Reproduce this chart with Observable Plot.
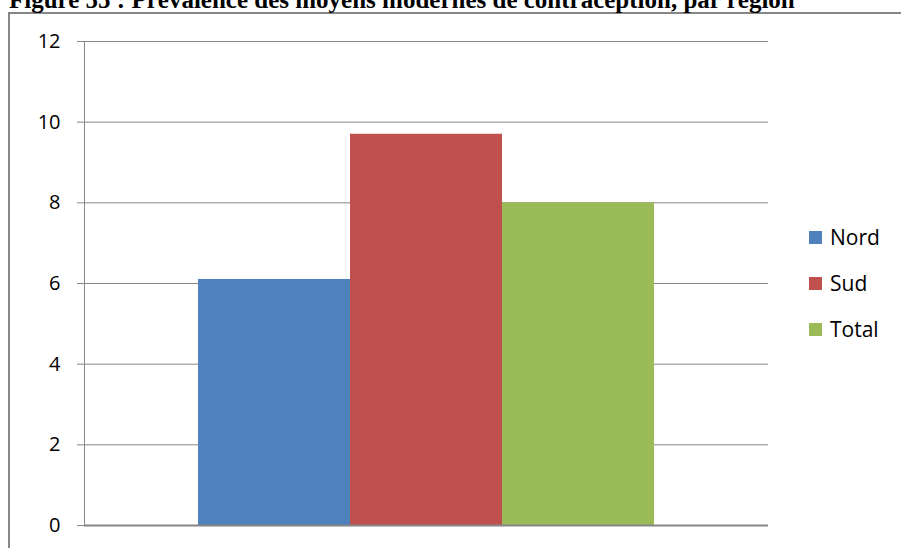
<!DOCTYPE html>
<html>
<head>
<meta charset="utf-8">
<script src="https://cdn.jsdelivr.net/npm/d3@7"></script>
<script src="https://cdn.jsdelivr.net/npm/@observablehq/plot@0.6"></script>
<style>
  html, body { margin: 0; padding: 0; background: #fff; overflow: hidden; }
  #wrap { position: relative; width: 901px; height: 548px; overflow: hidden; }
  #title { position: absolute; left: 9px; top: -12.9px; font-family: "Liberation Serif", "Times New Roman", serif;
           font-weight: bold; font-size: 25px; line-height: 25px; white-space: nowrap; color: #000; }
  #border { position: absolute; left: 8px; top: 12px; width: 900px; height: 600px; border-left: 2px solid #868686; border-top: 2px solid #868686; box-sizing: border-box; }
  #chart { position: absolute; left: 0; top: 0; }
  #legend { position: absolute; left: 809px; top: 0; font-family: "Open Sans", sans-serif; font-size: 21px; color: #000; }
  .item { position: absolute; left: 0; white-space: nowrap; display: flex; align-items: center; height: 26px; }
  .sw { width: 13px; height: 13px; margin-right: 8px; }
</style>
</head>
<body>
<div id="wrap">
  <div id="border"></div>
  <div id="chart"></div>
  <div id="title">Figure 55 : Prévalence des moyens modernes de contraception, par région</div>
  <div id="legend"></div>
</div>
<script>
const series = ["Nord", "Sud", "Total"];
const values = [6.1, 9.7, 8.0];
const colors = ["#4F81BD", "#C0504D", "#9BBB59"];
const yTicks = [0, 2, 4, 6, 8, 10, 12];

const data = series.map((s, i) => ({series: s, value: values[i]}));

const chart = Plot.plot({
  width: 901,
  height: 548,
  marginLeft: 84,
  marginRight: 133,
  marginTop: 41,
  marginBottom: 23,
  style: {fontFamily: "'Open Sans', sans-serif", fontSize: "20px", color: "#000", background: "transparent"},
  x: {domain: series, range: [198, 654], padding: 0, axis: null},
  y: {domain: [0, 12], ticks: yTicks, label: null},
  color: {domain: series, range: colors},
  marks: [
    Plot.ruleY(yTicks.filter(d => d > 0), {stroke: "#868686", strokeWidth: 1}),
    Plot.barY(data, {x: "series", y: "value", fill: "series"}),
    Plot.frame({anchor: "left", stroke: "#868686", strokeWidth: 1}),
    Plot.ruleY([0], {stroke: "#868686", strokeWidth: 2}),
    Plot.axisY({ticks: yTicks, tickSize: 7, tickPadding: 17, stroke: "#868686", strokeOpacity: 1, fill: "#000", label: null, fontSize: 20})
  ]
});
document.getElementById("chart").appendChild(chart);

const legend = document.getElementById("legend");
const centers = [237, 283, 329];
series.forEach((s, i) => {
  const it = document.createElement("div");
  it.className = "item";
  it.style.top = (centers[i] - 13) + "px";
  it.innerHTML = `<div class="sw" style="background:${colors[i]}"></div><span>${s}</span>`;
  legend.appendChild(it);
});
</script>
</body>
</html>
